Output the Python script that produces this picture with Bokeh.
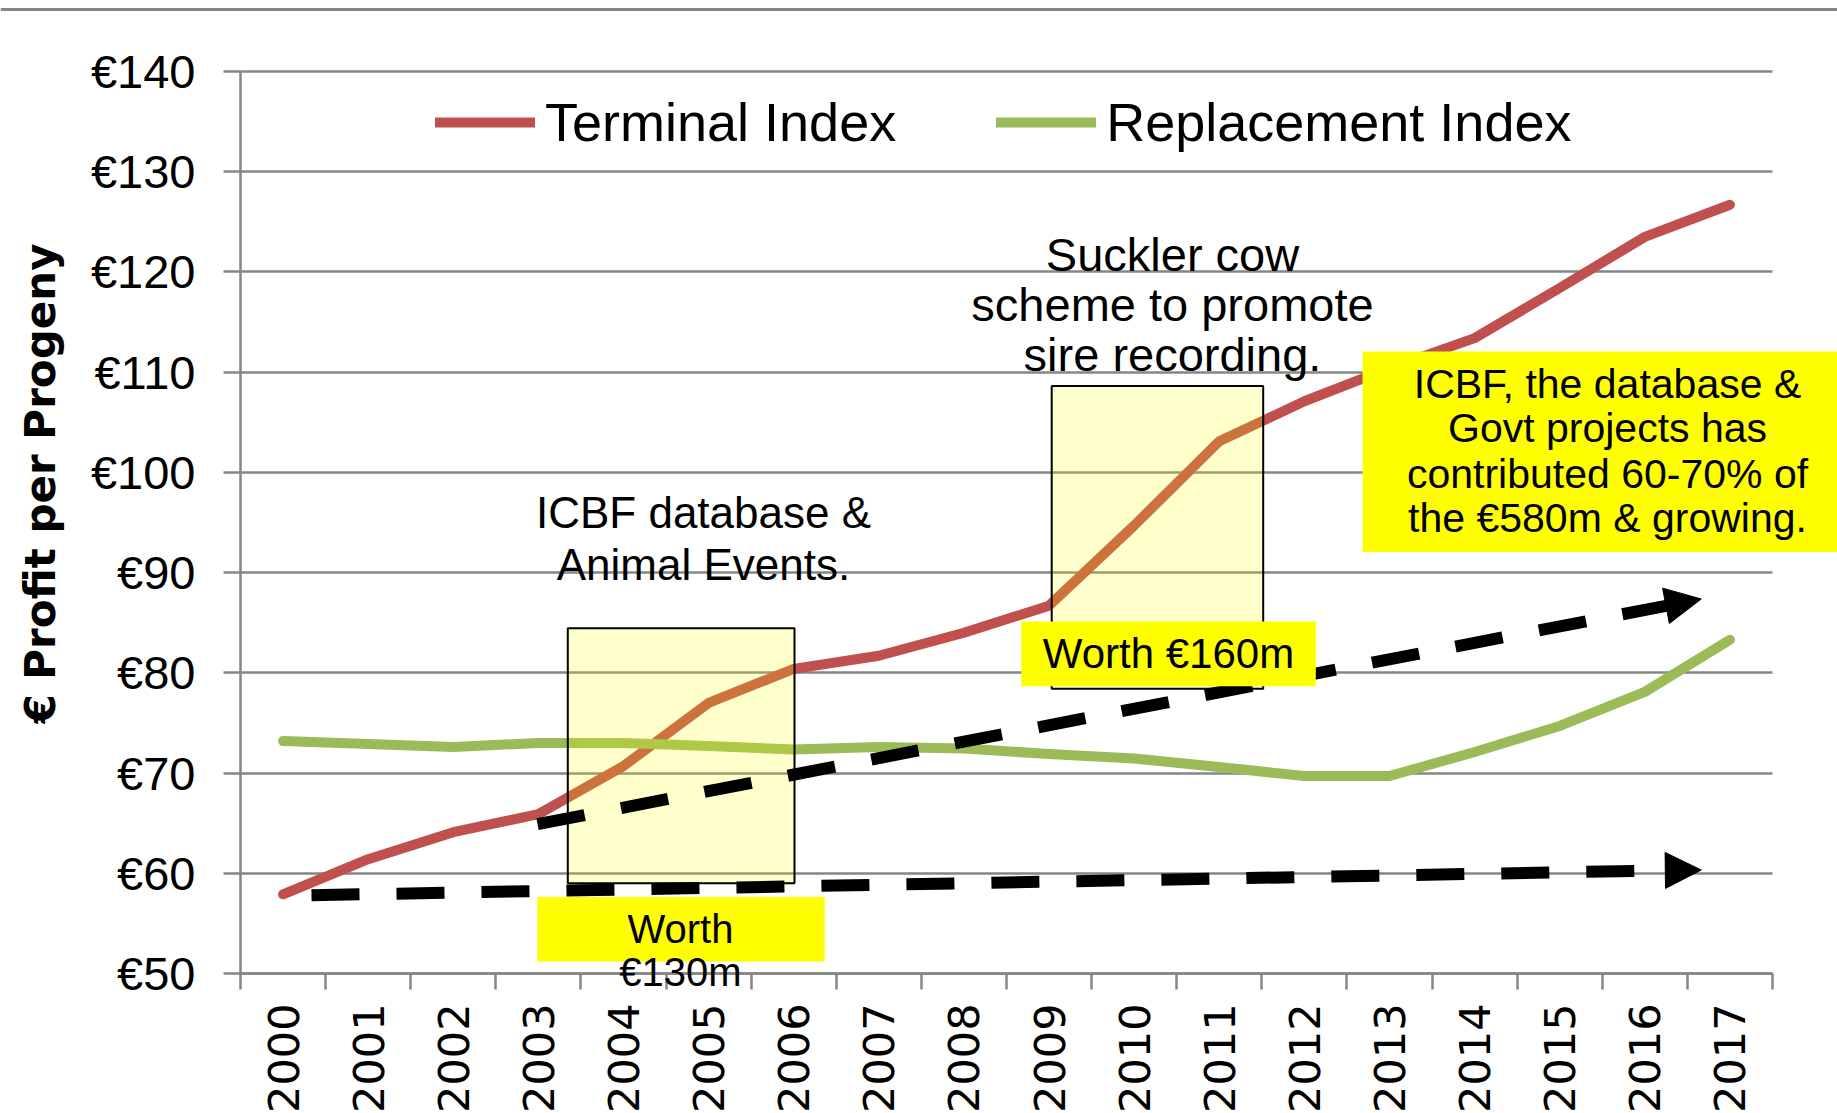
import numpy as np
from bokeh.plotting import figure
from bokeh.models import (Range1d, FixedTicker, PrintfTickFormatter, Legend, LegendItem,
                          Label, Arrow, NormalHead, Span)
from bokeh.embed import file_html
from bokeh.resources import INLINE

# ---------------- data ----------------
years = [2000, 2001, 2002, 2003, 2004, 2005, 2006, 2007, 2008,
         2009, 2010, 2011, 2012, 2013, 2014, 2015, 2016, 2017]
terminal_index = [57.9, 61.4, 64.1, 65.9, 70.7, 77.0, 80.4, 81.7, 84.0,
                  86.7, 94.7, 103.1, 107.1, 110.4, 113.4, 118.4, 123.5, 126.7]
replacement_index = [73.2, 72.9, 72.6, 73.0, 73.0, 72.7, 72.35, 72.6, 72.45,
                     71.9, 71.45, 70.6, 69.7, 69.7, 72.1, 74.7, 78.1, 83.3]
y_ticks = [50, 60, 70, 80, 90, 100, 110, 120, 130, 140]
series_names = ["Terminal Index", "Replacement Index"]
y_title = "€ Profit per Progeny"

GRAY = "#868686"
RED = "#C0504D"
GREEN = "#9BBB59"
FONT = "Liberation Sans"

# ---------------- layout calibration (canvas = whole window) ----------------
W, H = 1837, 1113
PX_L, PX_R, PX_T, PX_B = 240, 1772, 71, 973      # plot-area edges in pixels
X0, X1 = years[0] - 0.5, years[-1] + 0.5
Y0, Y1 = y_ticks[0], y_ticks[-1]
xs = (PX_R - PX_L) / (X1 - X0)
ys = (PX_B - PX_T) / (Y1 - Y0)
x_range = Range1d(X0 - PX_L / xs, X1 + (W - PX_R) / xs)
y_range = Range1d(Y0 - (H - PX_B) / ys, Y1 + PX_T / ys)

def X(px):  # pixel column -> data x (for annotations only)
    return X0 + (px - PX_L) / xs

def Y(py):  # pixel row -> data y (for annotations only)
    return Y0 + (PX_B - py) / ys

p = figure(width=W, height=H, output_backend="svg", toolbar_location=None,
           x_range=x_range, y_range=y_range, min_border=0, title=None,
           background_fill_color="white", border_fill_color="white")
p.outline_line_color = None

# x axis: labels at year centres, tick marks between years
xa = p.xaxis[0]
xa.fixed_location = Y0
xa.bounds = (X0, X1)
xa.ticker = FixedTicker(ticks=years, minor_ticks=[y - 0.5 for y in years] + [X1])
xa.major_tick_out = 0
xa.major_tick_in = 0
xa.major_tick_line_color = None
xa.minor_tick_out = 16
xa.minor_tick_in = 0
xa.minor_tick_line_color = GRAY
xa.minor_tick_line_width = 2.5
xa.axis_line_color = GRAY
xa.axis_line_width = 2.5
xa.major_label_orientation = np.pi / 2
xa.major_label_text_font = "DejaVu Sans"
xa.major_label_text_font_size = "43px"
xa.major_label_text_color = "black"
xa.major_label_standoff = 14

ya = p.yaxis[0]
ya.fixed_location = X0
ya.bounds = (Y0, Y1)
ya.ticker = FixedTicker(ticks=y_ticks)
ya.formatter = PrintfTickFormatter(format="€%d")
ya.major_tick_out = 17
ya.major_tick_in = 0
ya.major_tick_line_color = GRAY
ya.major_tick_line_width = 2.5
ya.minor_tick_line_color = None
ya.axis_line_color = GRAY
ya.axis_line_width = 2.5
ya.major_label_text_font = FONT
ya.major_label_text_font_size = "47px"
ya.major_label_text_color = "black"
ya.major_label_standoff = 28

p.xgrid.visible = False
p.ygrid.grid_line_color = GRAY
p.ygrid.grid_line_width = 2.5
p.ygrid.bounds = (Y0, Y1)
p.ygrid.cross_bounds = (X0, X1)

# top rule of the slide
p.add_layout(Span(location=Y(9), dimension="width", line_color=GRAY, line_width=3))

# ---------------- series ----------------
r_term = p.line(years, terminal_index, line_color=RED, line_width=10,
                line_cap="round", line_join="round")
r_repl = p.line(years, replacement_index, line_color=GREEN, line_width=10,
                line_cap="round", line_join="round")

# translucent highlight boxes
p.quad(left=[X(567.3), X(1051.2)], right=[X(794), X(1262.7)],
       top=[Y(627.7), Y(385.6)], bottom=[Y(882.7), Y(688.2)],
       fill_color="#FFFF00", fill_alpha=0.2, line_color="black", line_width=2)

# dashed trend arrows (shafts)
p.segment(x0=[X(311), X(537)], y0=[Y(894.7), Y(823.7)],
          x1=[X(1665), X(1665.5)], y1=[Y(869.9), Y(605.3)],
          line_color="black", line_width=12, line_dash="48 37", line_cap="butt")
for sx0, sy0, ex, ey in [(1665, 869.9, 1700.8, 869.5), (1665.5, 605.3, 1700.8, 598.5)]:
    p.add_layout(Arrow(end=NormalHead(size=36, fill_color="black", line_color="black", line_width=1),
                       x_start=X(sx0), y_start=Y(sy0), x_end=X(ex), y_end=Y(ey), line_color=None))

# solid yellow label boxes
p.quad(left=[X(1020.7), X(536.8), X(1362)], right=[X(1315.3), X(824.3), X(1860)],
       top=[Y(621.1), Y(896.4), Y(351)], bottom=[Y(685.7), Y(961), Y(551.5)],
       fill_color="#FFFF00", line_color=None)

# ---------------- legend ----------------
legend = Legend(items=[LegendItem(label=series_names[0], renderers=[r_term]),
                       LegendItem(label=series_names[1], renderers=[r_repl])],
                orientation="horizontal", location=(435, 956),
                border_line_color=None, background_fill_alpha=0,
                padding=0, margin=0, spacing=100,
                glyph_width=100, glyph_height=70, label_height=70, label_standoff=10,
                label_text_font=FONT, label_text_font_size="54px", label_text_color="black")
p.add_layout(legend)

# ---------------- annotations ----------------
def lab(px, py, text, size):
    p.add_layout(Label(x=X(px), y=Y(py), text=text, text_font=FONT, text_font_size=f"{size}px",
                       text_align="center", text_baseline="middle", text_color="black"))

lab(703, 511.5, "ICBF database &", 44)
lab(703, 563.5, "Animal Events.", 44)
lab(1172, 254, "Suckler cow", 47)
lab(1172, 304, "scheme to promote", 47)
lab(1172, 354, "sire recording.", 47)
lab(1168, 653, "Worth €160m", 42)
lab(680, 928, "Worth", 40)
lab(680, 971, "€130m", 40)
lab(1607, 383, "ICBF, the database &", 41)
lab(1607, 427.5, "Govt projects has", 41)
lab(1607, 473, "contributed 60-70% of", 41)
lab(1607, 517.5, "the €580m & growing.", 41)

p.add_layout(Label(x=X(40), y=Y(483), text=y_title, angle=np.pi / 2,
                   text_font="DejaVu Sans", text_font_style="bold", text_font_size="42px",
                   text_align="center", text_baseline="middle", text_color="black"))

open("out.html", "w").write(file_html(p, INLINE))
